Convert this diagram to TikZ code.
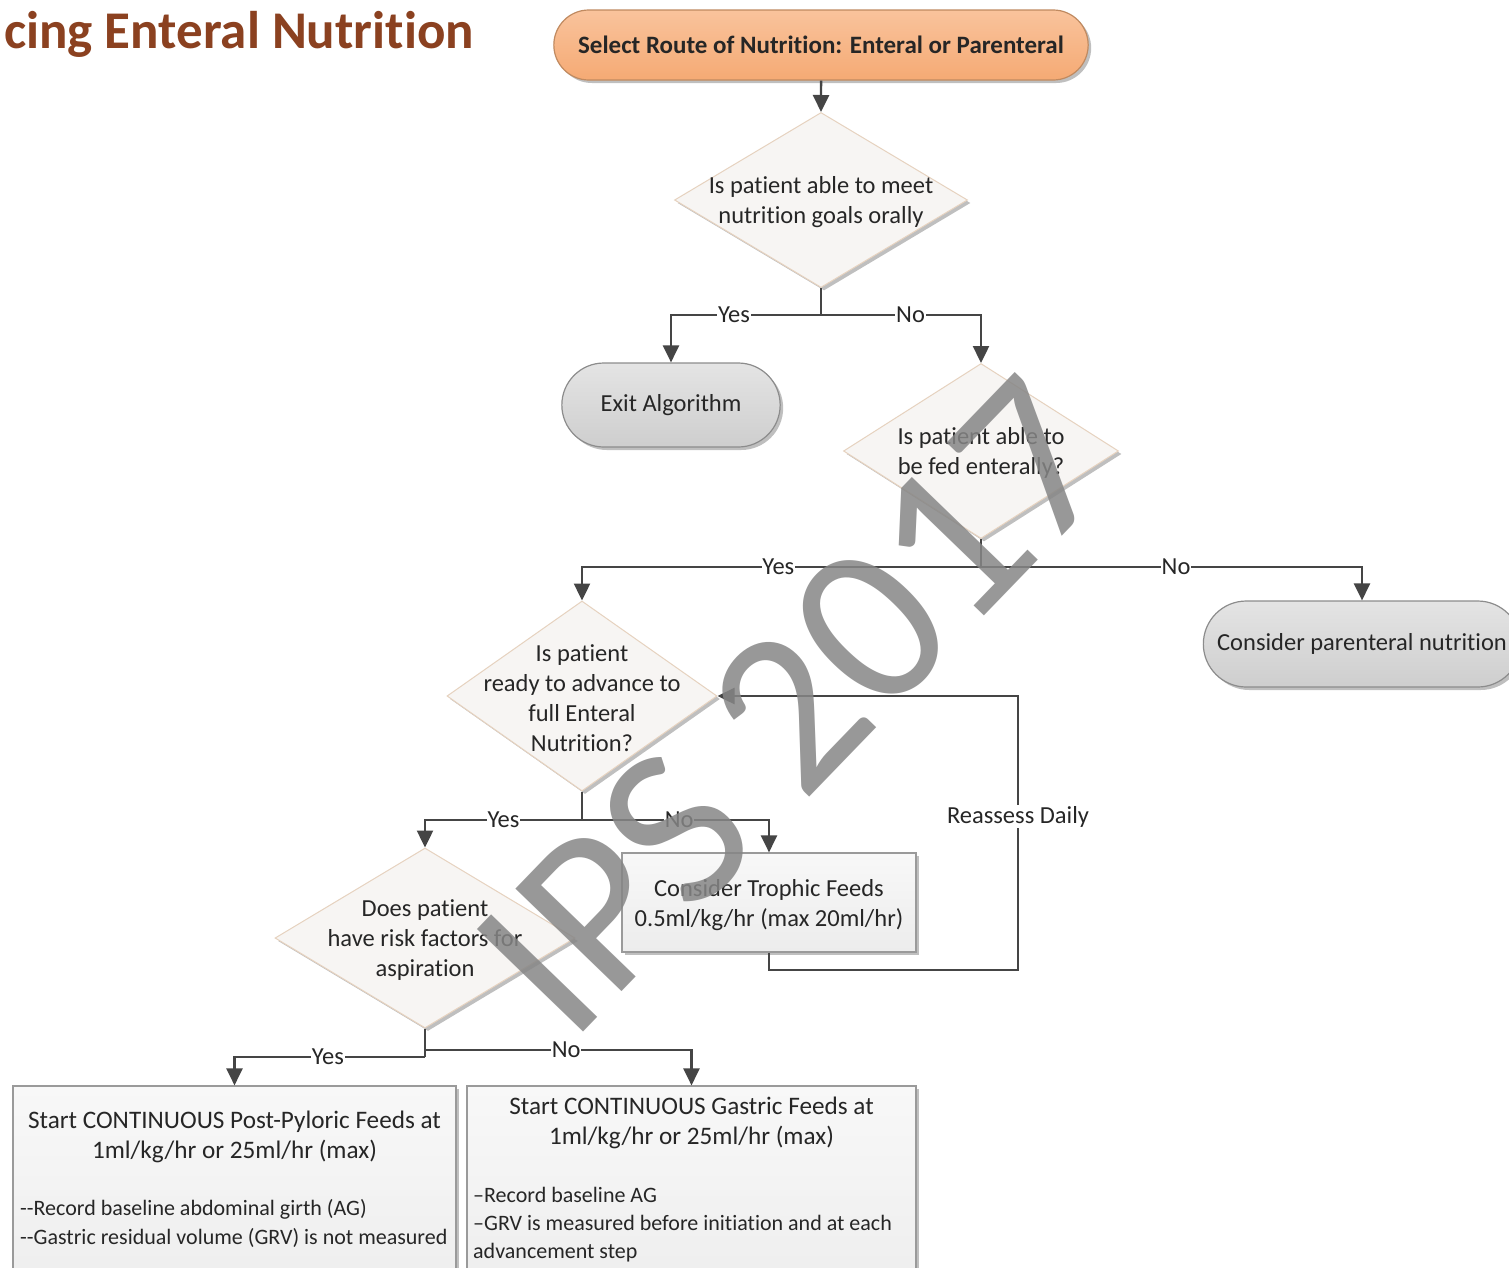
\documentclass[tikz,border=0pt]{standalone}
\usepackage{fontspec}
\setmainfont{Carlito}[Ligatures={TeX,NoCommon}]
\usetikzlibrary{arrows.meta,shapes.geometric,shapes.misc,shadows,calc}
\definecolor{titlebrown}{HTML}{8B4120}
\definecolor{ortop}{HTML}{F9C39C}
\definecolor{orbot}{HTML}{F5AA74}
\definecolor{ordraw}{HTML}{C08A60}
\definecolor{gtop}{HTML}{E4E4E4}
\definecolor{gbot}{HTML}{CECECE}
\definecolor{gdraw}{HTML}{8C8C8C}
\definecolor{dfill}{HTML}{F7F5F3}
\definecolor{ddraw}{HTML}{E6D2BF}
\definecolor{btop}{HTML}{F8F8F8}
\definecolor{bbot}{HTML}{ECECEC}
\definecolor{bdraw}{HTML}{9A9A9A}
\definecolor{linec}{HTML}{454545}
\definecolor{txt}{HTML}{262626}
\definecolor{wmc}{HTML}{868686}
\tikzset{
  basetext/.style={font=\fontsize{24.5}{30}\selectfont, text=txt, align=center, inner sep=0pt},
  shade/.style={drop shadow={shadow xshift=3pt, shadow yshift=-3pt, opacity=0.25, fill=black}},
  stadium/.style={rounded rectangle, draw=gdraw, line width=1.2pt, top color=gtop, bottom color=gbot, shade, font=\fontsize{24.5}{30}\selectfont, text=txt},
  startnode/.style={rounded rectangle, draw=ordraw, line width=1.2pt, top color=ortop, bottom color=orbot, shade, font=\bfseries\fontsize{25}{30}\selectfont, text=txt},
  decision/.style={diamond, draw=ddraw, line width=1pt, fill=dfill, shade, inner sep=0pt},
  procbox/.style={rectangle, draw=bdraw, line width=1.2pt, top color=btop, bottom color=bbot, shade, inner sep=0pt},
  conn/.style={draw=linec, line width=2.4pt},
  arr/.style={conn, -{Triangle[width=16pt,length=17pt]}},
  lbl/.style={fill=white, inner sep=0.8pt, font=\fontsize{24.5}{30}\selectfont, text=txt},
}
\begin{document}
\begin{tikzpicture}[x=1pt,y=-1pt]
\useasboundingbox (0,0) rectangle (1509,1267);
\clip (0,0) rectangle (1509,1267);
\fill[white] (0,0) rectangle (1509,1267);

% title
\node[anchor=base west, inner sep=0pt, font=\bfseries\fontsize{53}{60}\selectfont, text=titlebrown] (title) at (4,48) {cing Enteral Nutrition};

% nodes
\node[startnode, minimum width=541pt, minimum height=70pt] (start) at (821,45) {Select Route of Nutrition: Enteral or Parenteral};

\node[decision, minimum width=293pt, minimum height=175pt] (d1) at (821,200) {};
\node[basetext] (d1t) at (821,202) {Is patient able to meet\\nutrition goals orally};

\node[stadium, minimum width=225pt, minimum height=84pt] (exit) at (671,405) {Exit Algorithm};

\node[decision, minimum width=275pt, minimum height=175pt] (d2) at (981,451) {};
\node[basetext] (d2t) at (981,453) {Is patient able to\\be fed enterally?};

\node[stadium, minimum width=324pt, minimum height=86pt] (par) at (1362,644) {Consider parenteral nutrition};

\node[decision, minimum width=270pt, minimum height=190pt] (d3) at (582,696) {};
\node[basetext] (d3t) at (582,698) {Is patient\\ready to advance to\\full Enteral\\Nutrition?};

\node[procbox, minimum width=294pt, minimum height=99pt] (troph) at (769,902.5) {};
\node[basetext] (tropht) at (769,905) {Consider Trophic Feeds\\0.5ml/kg/hr (max 20ml/hr)};

\node[decision, minimum width=300pt, minimum height=180pt] (d4) at (425,938) {};
\node[basetext] (d4t) at (425,940) {Does patient\\have risk factors for\\aspiration};

\node[procbox, minimum width=443pt, minimum height=240pt] (box1) at (234.5,1206) {};
\node[basetext, anchor=base, font=\fontsize{25.2}{30}\selectfont] (box1h) at (234.5,1158) {Start CONTINUOUS Post-Pyloric Feeds at\\1ml/kg/hr or 25ml/hr (max)};
\node[basetext, anchor=base west, align=left, font=\fontsize{22}{29}\selectfont] (box1l) at (20,1244) {-{}-Record baseline abdominal girth (AG)\\-{}-Gastric residual volume (GRV) is not measured};

\node[procbox, minimum width=449pt, minimum height=240pt] (box2) at (691.5,1206) {};
\node[basetext, anchor=base, font=\fontsize{25.2}{30}\selectfont] (box2h) at (691.5,1144) {Start CONTINUOUS Gastric Feeds at\\1ml/kg/hr or 25ml/hr (max)};
\node[basetext, anchor=base west, align=left, font=\fontsize{22}{28}\selectfont] (box2l) at (473,1258) {–Record baseline AG\\–GRV is measured before initiation and at each\\advancement step};

% connectors
\coordinate (j1) at (821,315);
\coordinate (j2) at (981,567);
\coordinate (j3) at (582,820);
\coordinate (j4a) at (425,1050);
\coordinate (j4b) at (425,1057);
\coordinate (r1) at (1018,970);

\draw[arr] (start) -- (d1);
\draw[conn] (d1.south) -- (j1);
\draw[arr] (j1) -| node[lbl,pos=0.29]{Yes} (exit.north);
\draw[arr] (j1) -| node[lbl,pos=0.28]{No} (d2.north);

\draw[conn] (d2.south) -- (j2);
\draw[arr] (j2) -| node[lbl,pos=0.254]{Yes} (d3.north);
\draw[arr] (j2) -| node[lbl,pos=0.256]{No} (par.north);

\draw[conn] (d3.south) -- (j3);
\draw[arr] (j3) -| node[lbl,pos=0.25]{Yes} (d4.north);
\draw[arr] (j3) -| node[lbl,pos=0.26]{No} (troph.north);

\draw[arr] (troph.south) |- (r1) -- node[lbl,pos=0.56]{Reassess Daily} (d3.east -| r1) -- (d3.east);

\draw[conn] (d4.south) -- (j4b);
\draw[arr] (j4b) -| node[lbl,pos=0.255]{Yes} (box1.north);
\draw[arr] (j4a) -| node[lbl,pos=0.265]{No} (box2.north);

% watermark
\node[rotate=46, inner sep=0pt, font=\fontsize{230}{230}\selectfont, text=wmc, opacity=0.85] (wm) at (795,706) {IPS 2017};
\end{tikzpicture}
\end{document}
